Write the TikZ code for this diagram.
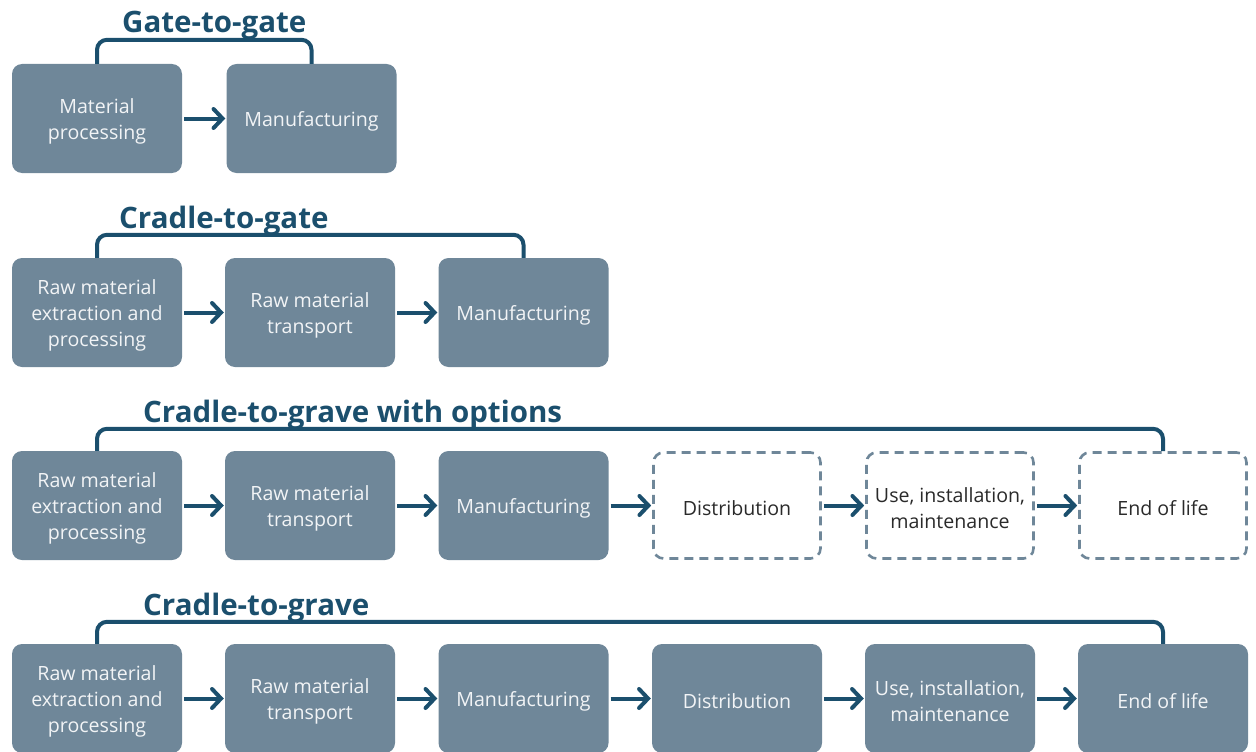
\documentclass[tikz,border=0pt]{standalone}
\usepackage{fontspec}
\setmainfont{Open Sans}
\usetikzlibrary{arrows.meta}
\definecolor{stagefill}{HTML}{6F8799}
\definecolor{inkteal}{HTML}{1B4F6D}
\definecolor{stagetext}{HTML}{F2F4F6}
\definecolor{optext}{HTML}{2A2A2A}
\tikzset{
  stagelabel/.style={align=center, inner sep=0pt, yshift=-3pt,
    font=\fontsize{19.6}{26}\selectfont},
  stage/.style={draw=none, fill=stagefill, rounded corners=10pt,
    minimum width=170pt, minimum height=109pt, inner sep=0pt,
    label={[stagelabel, text=stagetext]center:#1}},
  optional/.style={draw=stagefill, fill=white, rounded corners=10pt,
    line width=2.6pt, dash pattern=on 9pt off 6pt,
    minimum width=167pt, minimum height=106pt, inner sep=0pt,
    label={[stagelabel, text=optext]center:#1}},
  flow/.style={draw=inkteal, line width=4pt, shorten <=2pt, shorten >=1pt,
    -{Straight Barb[length=9pt, width=19pt, line width=4pt, line cap=round]}},
  scopebar/.style={draw=inkteal, line width=4pt, rounded corners=10pt},
  heading/.style={anchor=base west, text=inkteal, inner sep=0pt,
    font=\fontsize{29.5}{34}\selectfont\bfseries}
}
\begin{document}
\begin{tikzpicture}[x=1pt, y=-1pt]
\useasboundingbox (0,0) rectangle (1256,752);

% --- Gate-to-gate ---
\node[stage={Material\\processing}] (g1) at (97,118.5) {};
\node[stage={Manufacturing}] (g2) at (311.5,118.5) {};
\draw[flow] (g1.east) -- (g2.west);
\draw[scopebar] (g1.north) -- ++(0,-24) -| (g2.north);
\node[heading] (tg) at (122,33) {Gate-to-gate};

% --- Cradle-to-gate ---
\node[stage={Raw material\\extraction and\\processing}] (c1) at (97,312.5) {};
\node[stage={Raw material\\transport}] (c2) at (310,312.5) {};
\node[stage={Manufacturing}] (c3) at (523.5,312.5) {};
\draw[flow] (c1.east) -- (c2.west);
\draw[flow] (c2.east) -- (c3.west);
\draw[scopebar] (c1.north) -- ++(0,-23) -| (c3.north);
\node[heading] (tc) at (119,228) {Cradle-to-gate};

% --- Cradle-to-grave with options ---
\node[stage={Raw material\\extraction and\\processing}] (o1) at (97,505.5) {};
\node[stage={Raw material\\transport}] (o2) at (310,505.5) {};
\node[stage={Manufacturing}] (o3) at (523.5,505.5) {};
\node[optional={Distribution}] (o4) at (737,505.5) {};
\node[optional={Use, installation,\\maintenance}] (o5) at (950,505.5) {};
\node[optional={End of life}] (o6) at (1163,505.5) {};
\draw[flow] (o1.east) -- (o2.west);
\draw[flow] (o2.east) -- (o3.west);
\draw[flow] (o3.east) -- (o4.west);
\draw[flow] (o4.east) -- (o5.west);
\draw[flow] (o5.east) -- (o6.west);
\draw[scopebar] (o1.north) -- ++(0,-22) -| (o6.north);
\node[heading] (to) at (143,422) {Cradle-to-grave with options};

% --- Cradle-to-grave ---
\node[stage={Raw material\\extraction and\\processing}] (r1) at (97,698.5) {};
\node[stage={Raw material\\transport}] (r2) at (310,698.5) {};
\node[stage={Manufacturing}] (r3) at (523.5,698.5) {};
\node[stage={Distribution}] (r4) at (737,698.5) {};
\node[stage={Use, installation,\\maintenance}] (r5) at (950,698.5) {};
\node[stage={End of life}] (r6) at (1163,698.5) {};
\draw[flow] (r1.east) -- (r2.west);
\draw[flow] (r2.east) -- (r3.west);
\draw[flow] (r3.east) -- (r4.west);
\draw[flow] (r4.east) -- (r5.west);
\draw[flow] (r5.east) -- (r6.west);
\draw[scopebar] (r1.north) -- ++(0,-22) -| (r6.north);
\node[heading] (tr) at (143,615) {Cradle-to-grave};
\end{tikzpicture}
\end{document}
